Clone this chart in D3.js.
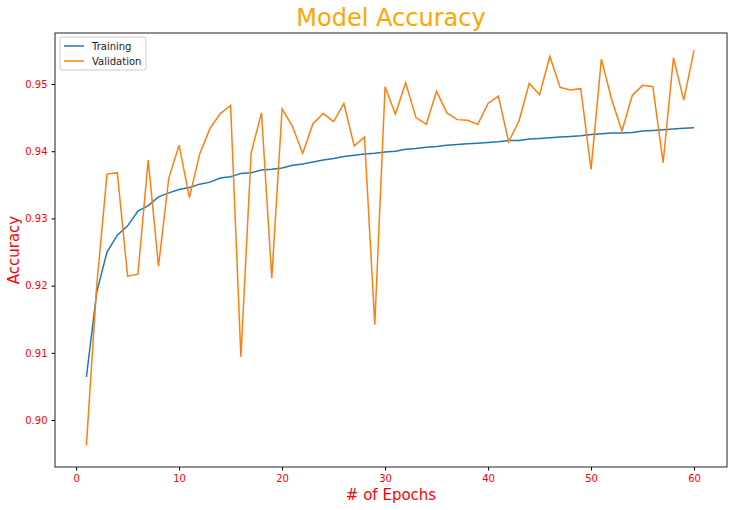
<!DOCTYPE html>
<html><head><meta charset="utf-8">
<script src="https://cdn.jsdelivr.net/npm/d3@7.9.0/dist/d3.min.js"></script>
<style>body{margin:0;background:#fff;font-family:"DejaVu Sans",sans-serif}</style>
</head><body><svg width="732" height="510"></svg>
<script>
const training = [0.9064,0.9190,0.9250,0.9275,0.9289,0.9311,0.9319,0.9332,0.9338,0.9343,
  0.9346,0.9351,0.9354,0.9360,0.9362,0.9367,0.9368,0.9372,0.9373,0.9375,
  0.9379,0.9381,0.9384,0.9387,0.9389,0.9392,0.9394,0.9396,0.9397,0.9399,
  0.9400,0.9403,0.9404,0.9406,0.9407,0.9409,0.9410,0.9411,0.9412,0.9413,
  0.9414,0.9416,0.9416,0.9418,0.9419,0.9420,0.9421,0.9422,0.9423,0.9425,
  0.9426,0.9427,0.9427,0.9428,0.9430,0.9431,0.9432,0.9433,0.9434,0.9435];
const validation = [0.8962,0.9200,0.9366,0.9368,0.9214,0.9217,0.9387,0.9229,0.9360,0.9409,
  0.9331,0.9396,0.9434,0.9456,0.9468,0.9094,0.9398,0.9457,0.9211,0.9463,
  0.9437,0.9397,0.9441,0.9456,0.9444,0.9471,0.9408,0.9421,0.9142,0.9496,
  0.9455,0.9502,0.9450,0.9440,0.9489,0.9457,0.9447,0.9446,0.9440,0.9471,
  0.9482,0.9414,0.9445,0.9501,0.9484,0.9541,0.9495,0.9491,0.9493,0.9373,
  0.9537,0.9477,0.9430,0.9483,0.9498,0.9496,0.9383,0.9539,0.9476,0.9550];
const xTicks = [0,10,20,30,40,50,60];
const yTicks = [0.90,0.91,0.92,0.93,0.94,0.95];

const svg = d3.select("svg");
const L=55,R=727,T=33,B=467;
const x = d3.scaleLinear().domain([-2.05,63.2]).range([L,R]);
const y = d3.scaleLinear().domain([0.89301,0.95759]).range([B,T]);

const xa = svg.append("g").attr("transform",`translate(0,${B})`)
  .call(d3.axisBottom(x).tickValues(xTicks).tickSize(3.5).tickPadding(4));
const ya = svg.append("g").attr("transform",`translate(${L},0)`)
  .call(d3.axisLeft(y).tickValues(yTicks).tickFormat(d3.format(".2f")).tickSize(3.5).tickPadding(4));
[xa,ya].forEach(a=>{a.select(".domain").remove();
  a.selectAll("text").attr("fill","red").style("font-size","10px").style("font-family","DejaVu Sans");});

const line = d3.line().x((d,i)=>x(i+1)).y(d=>y(d));
svg.append("path").datum(training).attr("d",line).attr("fill","none").attr("stroke","#1f77b4").attr("stroke-width",1.5);
svg.append("path").datum(validation).attr("d",line).attr("fill","none").attr("stroke","#ff7f0e").attr("stroke-width",1.5);

svg.append("rect").attr("x",L).attr("y",T).attr("width",R-L).attr("height",B-T)
  .attr("fill","none").attr("stroke","#222").attr("stroke-width",1);

svg.append("text").attr("x",(L+R)/2).attr("y",26).attr("text-anchor","middle")
  .attr("fill","orange").style("font-size","24px").text("Model Accuracy");
svg.append("text").attr("x",(L+R)/2).attr("y",500).attr("text-anchor","middle")
  .attr("fill","red").style("font-size","15px").text("# of Epochs");
svg.append("text").attr("transform",`translate(19,${(T+B)/2}) rotate(-90)`).attr("text-anchor","middle")
  .attr("fill","red").style("font-size","15px").text("Accuracy");

const lg = svg.append("g").attr("transform","translate(60,37)");
lg.append("rect").attr("width",86).attr("height",33).attr("rx",2).attr("fill","#fff").attr("stroke","#ccc");
[["Training","#1f77b4"],["Validation","#ff7f0e"]].forEach(([t,c],i)=>{
  lg.append("line").attr("x1",4).attr("x2",24).attr("y1",9+i*15).attr("y2",9+i*15).attr("stroke",c).attr("stroke-width",1.5);
  lg.append("text").attr("x",32).attr("y",13+i*15).style("font-size","10px").attr("fill","#222").text(t);
});
</script></body></html>
